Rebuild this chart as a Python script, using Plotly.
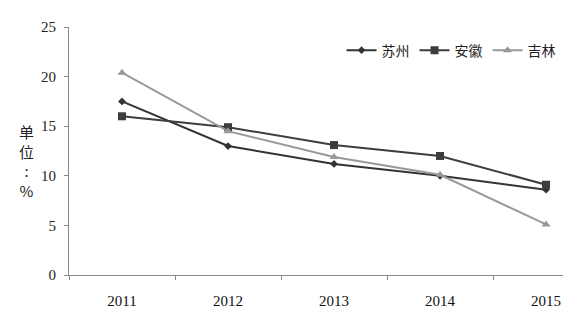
import plotly.graph_objects as go

years = ["2011", "2012", "2013", "2014", "2015"]
suzhou = [17.5, 13.0, 11.2, 10.0, 8.6]
anhui = [16.0, 14.9, 13.1, 12.0, 9.1]
jilin = [20.4, 14.5, 11.9, 10.1, 5.1]
y_ticks = [0, 5, 10, 15, 20, 25]

series = [
    ("苏州", suzhou, "#333333", "diamond", 6),
    ("安徽", anhui, "#3d3d3d", "square", 8),
    ("吉林", jilin, "#999999", "triangle-up", 8),
]

fig = go.Figure()
for name, vals, color, sym, size in series:
    fig.add_trace(go.Scatter(
        x=years, y=vals, name=name, mode="lines+markers",
        line=dict(color=color, width=2),
        marker=dict(symbol=sym, size=size, color=color),
    ))

fig.update_layout(
    width=577, height=326,
    margin=dict(l=69, r=14, t=27, b=51),
    paper_bgcolor="white", plot_bgcolor="white",
    showlegend=True,
    legend=dict(orientation="h", x=0.995, xanchor="right", y=0.905, yanchor="middle",
                font=dict(family="Noto Sans CJK SC", size=14, color="#222"),
                itemwidth=30, bgcolor="rgba(0,0,0,0)", traceorder="normal"),
    font=dict(family="Liberation Serif", color="#222"),
)
fig.update_xaxes(
    type="category", range=[-0.5, 4.16], showgrid=False,
    showline=True, linecolor="#888", linewidth=1,
    ticks="outside", ticklen=4, tickcolor="#888", tickson="boundaries",
    ticklabelstandoff=12,
    tickfont=dict(family="Liberation Serif", size=15, color="#111"),
)
fig.update_yaxes(
    range=[0, 25], tickvals=y_ticks, showgrid=False, zeroline=False,
    showline=True, linecolor="#888", linewidth=1,
    ticks="outside", ticklen=4, tickcolor="#888",
    ticklabelstandoff=5,
    tickfont=dict(family="Liberation Serif", size=15, color="#222"),
)
fig.add_annotation(
    x=(17 - 69) / 494, y=(275 - 161) / 248, xref="x domain", yref="y domain",
    text="单<br>位<br>:<br>%", showarrow=False,
    font=dict(family="Noto Sans CJK SC", size=15, color="#222"),
)

fig.write_html("out.html")
